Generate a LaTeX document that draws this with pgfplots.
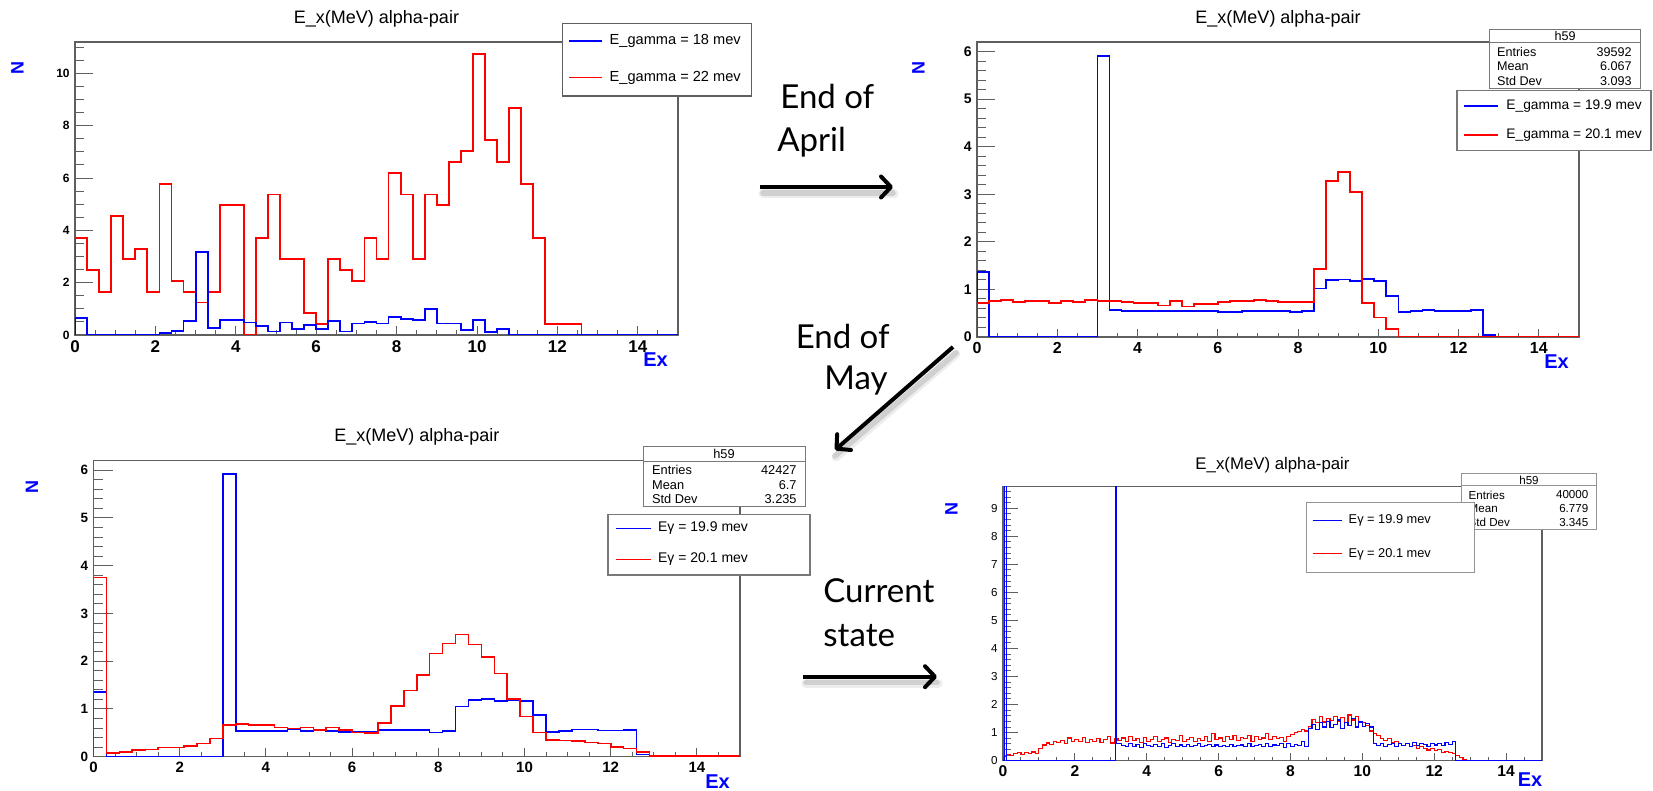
\documentclass[border=0pt]{standalone}
\usepackage{fontspec}
\setmainfont{Liberation Sans}
\newfontfamily\gill{Lato}
\usepackage{pgfplots}
\usepackage{pgfplotstable}
\pgfplotsset{compat=1.18}
\usetikzlibrary{arrows.meta}

\definecolor{fr}{RGB}{95,95,95}
\definecolor{bx}{RGB}{120,120,120}
\definecolor{rblue}{RGB}{0,0,255}
\definecolor{rred}{RGB}{255,0,0}
\newcommand{\fs}[1]{\fontsize{#1}{#1}\selectfont}

% Top-left: E_gamma = 18 mev (b), 22 mev (r); bin width 0.3
\pgfplotstableread{
x b r
0 0 0
0.0 0.64 3.72
0.3 0 2.48
0.6 0 1.65
0.9 0 4.55
1.2 0 2.89
1.5 0 3.30
1.8 0 1.65
2.1 0.09 5.78
2.4 0.15 2.07
2.7 0.53 1.65
3.0 3.18 1.24
3.3 0.27 1.65
3.6 0.57 4.96
3.9 0.57 4.96
4.2 0.48 0
4.5 0.33 3.72
4.8 0.13 5.37
5.1 0.48 2.89
5.4 0.23 2.89
5.7 0.38 0.83
6.0 0.24 0.41
6.3 0.53 2.89
6.6 0.13 2.48
6.9 0.44 2.07
7.2 0.49 3.72
7.5 0.44 2.89
7.8 0.68 6.20
8.1 0.61 5.37
8.4 0.57 2.89
8.7 0.99 5.37
9.0 0.44 4.96
9.3 0.44 6.61
9.6 0.20 7.02
9.9 0.57 10.74
10.2 0.11 7.44
10.5 0.23 6.61
10.8 0 8.68
11.1 0 5.78
11.4 0 3.72
11.7 0 0.41
12.0 0 0.41
12.3 0 0.41
12.6 0 0
15 0 0
}\TL

% Top-right: 19.9 mev (b), 20.1 mev (r)
\pgfplotstableread{
x b r
0 0 0
0.0 1.36 0.72
0.3 0 0.755
0.6 0 0.78
0.9 0 0.74
1.2 0 0.76
1.5 0 0.76
1.8 0 0.71
2.1 0 0.76
2.4 0 0.73
2.7 0 0.78
3.0 5.91 0.76
3.3 0.56 0.76
3.6 0.545 0.74
3.9 0.54 0.71
4.2 0.55 0.71
4.5 0.545 0.66
4.8 0.545 0.755
5.1 0.545 0.64
5.4 0.545 0.70
5.7 0.545 0.69
6.0 0.52 0.74
6.3 0.53 0.755
6.6 0.55 0.755
6.9 0.54 0.78
7.2 0.55 0.755
7.5 0.545 0.73
7.8 0.52 0.73
8.1 0.54 0.74
8.4 1.02 1.43
8.7 1.20 3.28
9.0 1.21 3.46
9.3 1.18 3.05
9.6 1.22 0.71
9.9 1.17 0.41
10.2 0.86 0.16
10.5 0.53 0
10.8 0.55 0
11.1 0.57 0
11.4 0.55 0
11.7 0.54 0
12.0 0.55 0
12.3 0.56 0
12.6 0.05 0
12.9 0 0
15 0 0
}\TR

% Bottom-left
\pgfplotstableread{
x b r
0 0 0
0.0 1.36 3.75
0.3 0 0.08
0.6 0 0.10
0.9 0 0.14
1.2 0 0.15
1.5 0 0.195
1.8 0 0.195
2.1 0 0.23
2.4 0 0.28
2.7 0 0.38
3.0 5.92 0.66
3.3 0.54 0.68
3.6 0.54 0.66
3.9 0.54 0.66
4.2 0.54 0.61
4.5 0.57 0.59
4.8 0.54 0.61
5.1 0.56 0.56
5.4 0.54 0.61
5.7 0.52 0.56
6.0 0.52 0.51
6.3 0.52 0.50
6.6 0.56 0.70
6.9 0.56 1.06
7.2 0.56 1.39
7.5 0.56 1.71
7.8 0.51 2.16
8.1 0.54 2.37
8.4 1.05 2.56
8.7 1.19 2.35
9.0 1.21 2.09
9.3 1.17 1.74
9.6 1.19 1.21
9.9 1.17 0.84
10.2 0.87 0.51
10.5 0.52 0.35
10.8 0.54 0.34
11.1 0.57 0.33
11.4 0.57 0.30
11.7 0.55 0.28
12.0 0.55 0.20
12.3 0.56 0.17
12.6 0.05 0.10
12.9 0 0.01
15 0 0
}\BL

% Bottom-right (fine bins)
\pgfplotstableread{
x b r
0 0 0
0.0 0 0.15
0.04 30 0.15
0.1 0 0.22
0.2 0 0.18
0.3 0 0.25
0.4 0 0.30
0.5 0 0.22
0.6 0 0.28
0.7 0 0.25
0.8 0 0.31
0.9 0 0.27
1.0 0 0.42
1.1 0 0.56
1.2 0 0.63
1.3 0 0.58
1.4 0 0.70
1.5 0 0.64
1.6 0 0.73
1.7 0 0.62
1.8 0 0.81
1.9 0 0.68
2.0 0 0.75
2.1 0 0.69
2.2 0 0.83
2.3 0 0.66
2.4 0 0.74
2.5 0 0.70
2.6 0 0.79
2.7 0 0.65
2.8 0 0.76
2.9 0 0.86
3.0 0 0.63
3.1 0 0.78
3.12 30 0.78
3.16 0.62 0.78
3.2 0.62 0.72
3.3 0.55 0.81
3.4 0.50 0.68
3.5 0.60 0.86
3.6 0.52 0.72
3.7 0.58 0.78
3.8 0.48 0.66
3.9 0.62 0.83
4.0 0.55 0.70
4.1 0.50 0.77
4.2 0.58 0.86
4.3 0.52 0.68
4.4 0.60 0.74
4.5 0.48 0.81
4.6 0.55 0.65
4.7 0.62 0.77
4.8 0.50 0.72
4.9 0.56 0.89
5.0 0.52 0.70
5.1 0.58 0.76
5.2 0.50 0.83
5.3 0.55 0.68
5.4 0.60 0.80
5.5 0.50 0.73
5.6 0.54 0.87
5.7 0.58 0.70
5.8 0.52 0.96
5.9 0.56 0.74
6.0 0.50 0.81
6.1 0.55 0.70
6.2 0.52 0.85
6.3 0.58 0.76
6.4 0.50 0.91
6.5 0.54 0.72
6.6 0.56 0.83
6.7 0.52 0.78
6.8 0.60 0.89
6.9 0.50 0.70
7.0 0.55 0.86
7.1 0.58 0.76
7.2 0.52 0.81
7.3 0.62 0.96
7.4 0.50 0.74
7.5 0.56 0.87
7.6 0.53 0.78
7.7 0.60 0.83
7.8 0.48 0.70
7.9 0.62 0.85
8.0 0.50 0.92
8.1 0.58 0.99
8.2 0.55 1.03
8.3 0.68 1.10
8.4 0.52 1.06
8.5 1.15 1.22
8.6 1.30 1.46
8.7 1.10 1.35
8.8 1.35 1.56
8.9 1.20 1.38
9.0 1.40 1.51
9.1 1.18 1.42
9.2 1.30 1.59
9.3 1.45 1.40
9.4 1.15 1.53
9.5 1.35 1.35
9.6 1.25 1.63
9.7 1.50 1.45
9.8 1.20 1.56
9.9 1.38 1.40
10.0 1.22 1.35
10.1 1.32 1.26
10.2 1.20 1.06
10.3 0.60 0.96
10.4 0.55 0.90
10.5 0.62 0.80
10.6 0.50 0.72
10.7 0.58 0.78
10.8 0.60 0.66
10.9 0.52 0.70
11.0 0.62 0.60
11.1 0.55 0.55
11.2 0.60 0.62
11.3 0.52 0.50
11.4 0.65 0.55
11.5 0.55 0.45
11.6 0.60 0.50
11.7 0.58 0.42
11.8 0.50 0.38
11.9 0.62 0.44
12.0 0.56 0.35
12.1 0.60 0.40
12.2 0.55 0.30
12.3 0.65 0.33
12.4 0.58 0.28
12.5 0.70 0.25
12.6 0 0.20
12.7 0 0.12
12.8 0 0.05
12.9 0 0
15 0 0
}\BR

\pgfplotsset{
  rootax/.style={scale only axis, xmin=0, xmax=15, ymin=0,
    tick align=inside, xtick pos=left, ytick pos=left,
    axis line style={draw=fr, line width=0.6pt},
    every tick/.append style={draw=fr, line width=0.5pt},
    /pgf/number format/assume math mode=true,
    xtick distance=2, minor x tick num=3,
    xticklabel style={inner sep=0pt, anchor=north, yshift=-2.5pt},
    yticklabel style={inner sep=0pt, anchor=east, xshift=-2.5pt}},
  xpart/.style={rootax, ytick=\empty},
  ypart/.style={rootax, hide x axis},
  hb/.style={rblue, line width=0.9pt, const plot mark left, mark=none},
  hr/.style={rred, line width=0.9pt, const plot mark left, mark=none},
}

\begin{document}
\begin{tikzpicture}
\useasboundingbox (0,0) rectangle (826.5pt,395.5pt);
\begin{scope}[x=0.5pt,y=-0.5pt,yshift=395.5pt]
\coordinate (oTL) at (75,335);
\coordinate (oTR) at (977,337);
\coordinate (oBL) at (93.5,756.7);
\coordinate (oBR) at (1003,760.7);
\end{scope}

% ---------------- Top-left
\begin{axis}[ypart, at={(oTL)}, anchor=south west, width=301.5pt, height=146.5pt,
  ymax=11.2, ytick distance=2, minor y tick num=3,
  major tick length=9pt, minor tick length=4.5pt,
  yticklabel style={font=\bfseries\fs{6}}]
\end{axis}
\begin{axis}[xpart, at={(oTL)}, anchor=south west, width=301.5pt, height=146.5pt,
  ymax=11.2, major tick length=4.5pt, minor tick length=2.25pt,
  xticklabel style={font=\bfseries\fs{8.5}}]
\addplot[hr] table[x=x,y=r]{\TL};
\addplot[hb] table[x=x,y=b]{\TL};
\end{axis}

% ---------------- Top-right
\begin{axis}[ypart, at={(oTR)}, anchor=south west, width=301pt, height=147.5pt,
  ymax=6.2, ytick distance=1, minor y tick num=4,
  major tick length=9pt, minor tick length=4.5pt,
  yticklabel style={font=\bfseries\fs{7}}]
\end{axis}
\begin{axis}[xpart, at={(oTR)}, anchor=south west, width=301pt, height=147.5pt,
  ymax=6.2, major tick length=4.15pt, minor tick length=2.1pt,
  xticklabel style={font=\bfseries\fs{8}}]
\addplot[hb] table[x=x,y=b]{\TR};
\addplot[hr] table[x=x,y=r]{\TR};
\end{axis}

% ---------------- Bottom-left
\begin{axis}[ypart, at={(oBL)}, anchor=south west, width=323.25pt, height=148pt,
  ymax=6.2, ytick distance=1, minor y tick num=4,
  major tick length=9.7pt, minor tick length=4.85pt,
  yticklabel style={font=\bfseries\fs{6.75}}]
\end{axis}
\begin{axis}[xpart, at={(oBL)}, anchor=south west, width=323.25pt, height=148pt,
  ymax=6.2, major tick length=4.2pt, minor tick length=2.1pt,
  xticklabel style={font=\bfseries\fs{7.5}}]
\addplot[hb, line width=0.8pt] table[x=x,y=b]{\BL};
\addplot[hr, line width=0.8pt] table[x=x,y=r]{\BL};
\end{axis}

% ---------------- Bottom-right
\begin{axis}[ypart, at={(oBR)}, anchor=south west, width=269.5pt, height=137pt,
  ymax=9.77, ytick distance=1, minor y tick num=4,
  major tick length=7.5pt, minor tick length=3.75pt,
  yticklabel style={font=\fs{5.8}}]
\end{axis}
\begin{axis}[xpart, at={(oBR)}, anchor=south west, width=269.5pt, height=137pt,
  ymax=9.77, major tick length=3.8pt, minor tick length=1.9pt,
  xticklabel style={font=\bfseries\fs{7.8}}]
\addplot[hr, line width=0.55pt] table[x=x,y=r]{\BR};
\addplot[hb, line width=0.55pt] table[x=x,y=b]{\BR};
\end{axis}

% ---------------- annotations (pixel coordinates)
\begin{scope}[x=0.5pt,y=-0.5pt,yshift=395.5pt]
% titles
\node[anchor=base, inner sep=0, font=\fs{9}] at (376.5,23.3) {E\_x(MeV) alpha-pair};
\node[anchor=base, inner sep=0, font=\fs{9}] at (1278,23.3) {E\_x(MeV) alpha-pair};
\node[anchor=base, inner sep=0, font=\fs{9}] at (416.8,441.7) {E\_x(MeV) alpha-pair};
\node[anchor=base, inner sep=0, font=\fs{8.4}] at (1272.5,469.3) {E\_x(MeV) alpha-pair};
% axis titles
\foreach \p in {(17.5,68),(918.5,68),(32,486.7),(951.5,509.5)}
  \node[rotate=90, inner sep=0, text=rblue, font=\bfseries\fs{9}] at \p {N};
\foreach \p in {(655.5,360),(1556.5,362),(717.5,781.7),(1530,779.5)}
  \node[inner sep=0, text=rblue, font=\bfseries\fs{10}] at \p {Ex};

% TL legend
\draw[fr, fill=white, line width=0.6pt] (562.3,23.3) rectangle (751.7,96);
\draw[rblue, line width=1.2pt] (569,41) -- (601.7,41);
\draw[rred, line width=0.7pt] (569,77.7) -- (601.7,77.7);
\node[anchor=west, inner sep=0, font=\fs{7.3}] at (609.3,41) {E\_gamma = 18 mev};
\node[anchor=west, inner sep=0, font=\fs{7.3}] at (609.3,77.7) {E\_gamma = 22 mev};

% TR stats + legend
\draw[bx, fill=white, line width=0.5pt] (1489.5,29.3) rectangle (1640.3,88.3);
\draw[bx, line width=0.5pt] (1489.5,42.7) -- (1640.3,42.7);
\begin{scope}[every node/.style={inner sep=0, font=\fs{6.3}}]
\node at (1565,36) {h59};
\node[anchor=west] at (1496.7,51.7) {Entries}; \node[anchor=east] at (1632,51.7) {39592};
\node[anchor=west] at (1496.7,66) {Mean};      \node[anchor=east] at (1632,66) {6.067};
\node[anchor=west] at (1496.7,80.7) {Std Dev}; \node[anchor=east] at (1632,80.7) {3.093};
\end{scope}
\draw[bx, fill=white, line width=0.6pt] (1457,90.7) rectangle (1651,150.7);
\draw[rblue, line width=0.8pt] (1464,106) -- (1498,106);
\draw[rred, line width=1.1pt] (1464,135) -- (1498,135);
\node[anchor=west, inner sep=0, font=\fs{6.9}] at (1506,106) {E\_gamma = 19.9 mev};
\node[anchor=west, inner sep=0, font=\fs{6.9}] at (1506,135) {E\_gamma = 20.1 mev};

% BL stats + legend
\draw[bx, fill=white, line width=0.5pt] (643,446.7) rectangle (805,506.7);
\draw[bx, line width=0.5pt] (643,461.7) -- (805,461.7);
\begin{scope}[every node/.style={inner sep=0, font=\fs{6.4}}]
\node at (724,454.2) {h59};
\node[anchor=west] at (651.7,470) {Entries}; \node[anchor=east] at (797,470) {42427};
\node[anchor=west] at (651.7,485) {Mean};    \node[anchor=east] at (797,485) {6.7};
\node[anchor=west] at (651.7,499.3) {Std Dev}; \node[anchor=east] at (797,499.3) {3.235};
\end{scope}
\draw[bx, fill=white, line width=0.6pt] (608,514.3) rectangle (810,575);
\draw[rblue, line width=0.7pt] (616,528.3) -- (650.7,528.3);
\draw[rred, line width=0.7pt] (616,559.3) -- (650.7,559.3);
\node[anchor=west, inner sep=0, font=\fs{7}] at (657.7,528.3) {Eγ = 19.9 mev};
\node[anchor=west, inner sep=0, font=\fs{7}] at (657.7,559.3) {Eγ = 20.1 mev};

% BR stats + legend
\draw[bx!80, fill=white, line width=0.5pt] (1461.7,474) rectangle (1596,529.3);
\draw[bx!80, line width=0.5pt] (1461.7,486) -- (1596,486);
\begin{scope}[every node/.style={inner sep=0, font=\fs{5.8}}]
\node at (1529,480) {h59};
\node[anchor=west] at (1468.3,495) {Entries}; \node[anchor=east] at (1588.7,495) {40000};
\node[anchor=west] at (1468.3,509) {Mean};    \node[anchor=east] at (1588.7,509) {6.779};
\node[anchor=west] at (1468.3,522.3) {Std Dev}; \node[anchor=east] at (1588.7,522.3) {3.345};
\end{scope}
\draw[bx!80, fill=white, line width=0.5pt] (1306,502.7) rectangle (1474.3,572.3);
\draw[rblue, line width=0.5pt] (1312.7,520.7) -- (1341.7,520.7);
\draw[rred, line width=0.5pt] (1312.7,554) -- (1341.7,554);
\node[anchor=west, inner sep=0, font=\fs{6.4}] at (1348.3,520.7) {Eγ = 19.9 mev};
\node[anchor=west, inner sep=0, font=\fs{6.4}] at (1348.3,554) {Eγ = 20.1 mev};

% arrows with soft shadows
\foreach \a/\b/\c/\d in {760/187/893/187, 953/347/835/450, 803/676.7/937/676.7}{
  \draw[line width=4.5pt, black, opacity=0.07, line cap=round] (\a+3,\b+7) -- (\c+1,\d+7);
  \draw[line width=2.8pt, black, opacity=0.12, line cap=round] (\a+3,\b+6) -- (\c,\d+6);
  \draw[line width=2pt, black, -{Straight Barb[length=5pt,width=10.5pt,line cap=round,line join=round]}] (\a,\b) -- (\c,\d);
}
% arrow labels
\begin{scope}[every node/.style={inner sep=0, font=\gill\fs{16.5}}]
\node[anchor=base west] at (780,109) {End of};
\node[anchor=base west] at (777,151.7) {April};
\node[anchor=base east] at (890,348.3) {End of};
\node[anchor=base east] at (888,390) {May};
\node[anchor=base west] at (823,603) {Current};
\node[anchor=base west] at (823,646.7) {state};
\end{scope}
\end{scope}
\end{tikzpicture}
\end{document}
